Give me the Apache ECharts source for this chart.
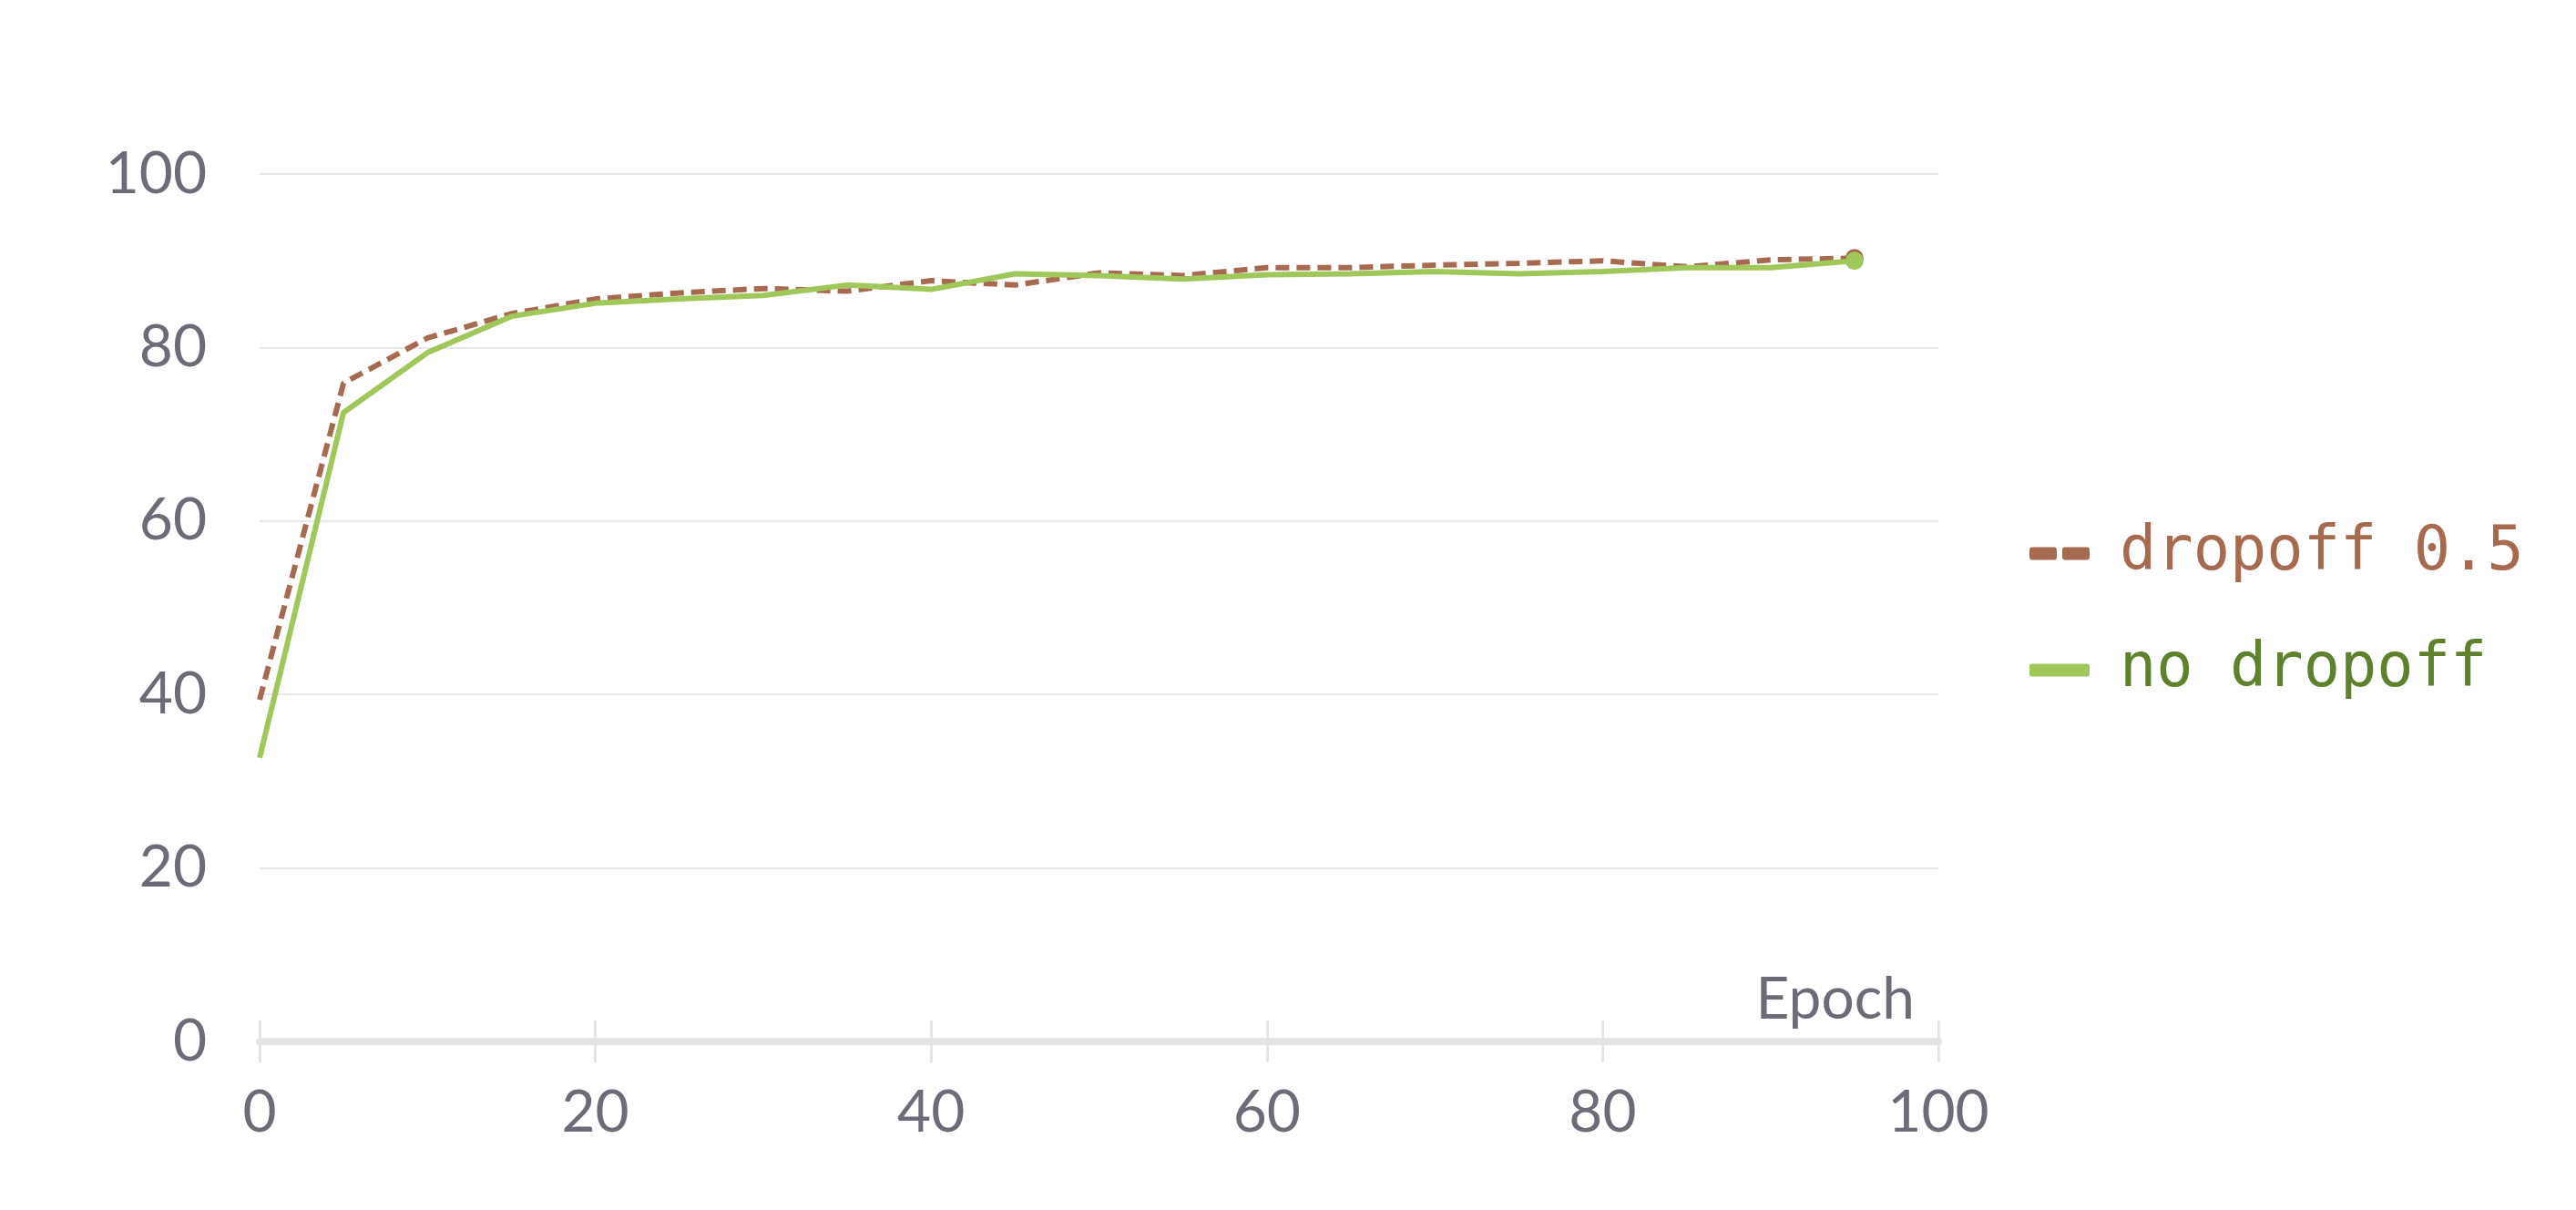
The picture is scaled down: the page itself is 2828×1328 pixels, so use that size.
<!DOCTYPE html>
<html>
<head>
<meta charset="utf-8">
<script src="https://cdn.jsdelivr.net/npm/echarts@6/dist/echarts.min.js"></script>
<style>
  html, body { margin: 0; padding: 0; background: #fff; }
  #chart { width: 2828px; height: 1328px; }
</style>
</head>
<body>
<div id="chart"></div>
<script>
const epochs = [0, 5, 10, 15, 20, 25, 30, 35, 40, 45, 50, 55, 60, 65, 70, 75, 80, 85, 90, 95]
const dropoffVals = [39.4, 75.9, 81.1, 83.9, 85.6, 86.3, 86.8, 86.5, 87.7, 87.2, 88.6, 88.3, 89.2, 89.2, 89.5, 89.7, 90.0, 89.3, 90.1, 90.3]
const noDropoffVals = [32.7, 72.5, 79.4, 83.6, 85.1, 85.6, 86.0, 87.2, 86.7, 88.5, 88.3, 87.9, 88.4, 88.5, 88.75, 88.5, 88.75, 89.2, 89.2, 90.0]
const xTicks = [0, 20, 40, 60, 80, 100]
const yTicks = [0, 20, 40, 60, 80, 100]

const brown = '#a66a50'
const green = '#a0c75a'
const textGray = '#6c6c78'
const axisGray = '#e4e4e6'

// legend icons: two short rounded bars for the dashed series, one long bar for the solid one
const dashIcon = 'path://M3,0H27A3,3 0 0 1 30,3V11A3,3 0 0 1 27,14H3A3,3 0 0 1 0,11V3A3,3 0 0 1 3,0Z' +
  'M39,0H63A3,3 0 0 1 66,3V11A3,3 0 0 1 63,14H39A3,3 0 0 1 36,11V3A3,3 0 0 1 39,0Z'
const solidIcon = 'path://M3,0H63A3,3 0 0 1 66,3V11A3,3 0 0 1 63,14H3A3,3 0 0 1 0,11V3A3,3 0 0 1 3,0Z'

// last point gets a dot, the rest none
function toPoints(vals, size) {
  return vals.map((v, i) => {
    if (i === vals.length - 1) return { value: [epochs[i], v], symbol: 'circle', symbolSize: size }
    return [epochs[i], v]
  })
}

const chart = echarts.init(document.getElementById('chart'))

chart.setOption({
  backgroundColor: '#fff',
  animation: false,
  grid: { left: 285, right: 700, top: 191, bottom: 185 },
  legend: {
    orient: 'vertical',
    left: 2223,
    top: 569,
    itemWidth: 66,
    itemHeight: 14,
    itemGap: 61,
    textStyle: { fontFamily: 'DejaVu Sans Mono', fontSize: 67, lineHeight: 66, padding: [0, 0, 0, 28] },
    data: [
      { name: 'dropoff 0.5', icon: dashIcon, itemStyle: { color: brown, borderWidth: 0 }, textStyle: { color: brown } },
      { name: 'no dropoff', icon: solidIcon, itemStyle: { color: green, borderWidth: 0 }, textStyle: { color: '#5f802c' } },
    ],
  },
  xAxis: [
    {
      type: 'value',
      min: xTicks[0],
      max: xTicks[xTicks.length - 1],
      interval: xTicks[1] - xTicks[0],
      name: 'Epoch',
      nameLocation: 'end',
      nameGap: -26,
      nameTextStyle: {
        fontFamily: 'Lato', fontSize: 64, color: textGray,
        align: 'right', verticalAlign: 'bottom', padding: [0, 0, 14, 0],
      },
      axisLine: { show: true, lineStyle: { color: axisGray, width: 8 } },
      axisTick: { show: true, inside: false, length: 23, lineStyle: { color: axisGray, width: 3 } },
      axisLabel: { fontFamily: 'Lato', fontSize: 64, color: textGray, margin: 46 },
      splitLine: { show: false },
    },
    {
      type: 'value',
      position: 'bottom',
      min: xTicks[0],
      max: xTicks[xTicks.length - 1],
      interval: xTicks[1] - xTicks[0],
      axisLine: { show: false },
      axisTick: { show: true, inside: true, length: 23, lineStyle: { color: axisGray, width: 3 } },
      axisLabel: { show: false },
      splitLine: { show: false },
    },
  ],
  yAxis: {
    type: 'value',
    min: yTicks[0],
    max: yTicks[yTicks.length - 1],
    interval: yTicks[1] - yTicks[0],
    axisLine: { show: false },
    axisTick: { show: false },
    axisLabel: { fontFamily: 'Lato', fontSize: 64, color: textGray, margin: 58 },
    splitLine: {
      show: true,
      lineStyle: { color: '#e8e8ea', width: 2 },
      showMinLine: false,
    },
  },
  series: [
    {
      name: 'dropoff 0.5',
      type: 'line',
      data: toPoints(dropoffVals, 20),
      symbol: 'none',
      showSymbol: true,
      color: brown,
      lineStyle: { color: brown, width: 6, type: [15, 8] },
      itemStyle: { color: brown },
    },
    {
      name: 'no dropoff',
      type: 'line',
      data: toPoints(noDropoffVals, 20),
      symbol: 'none',
      showSymbol: true,
      color: green,
      lineStyle: { color: green, width: 6 },
      itemStyle: { color: green },
    },
  ],
})
</script>
</body>
</html>
